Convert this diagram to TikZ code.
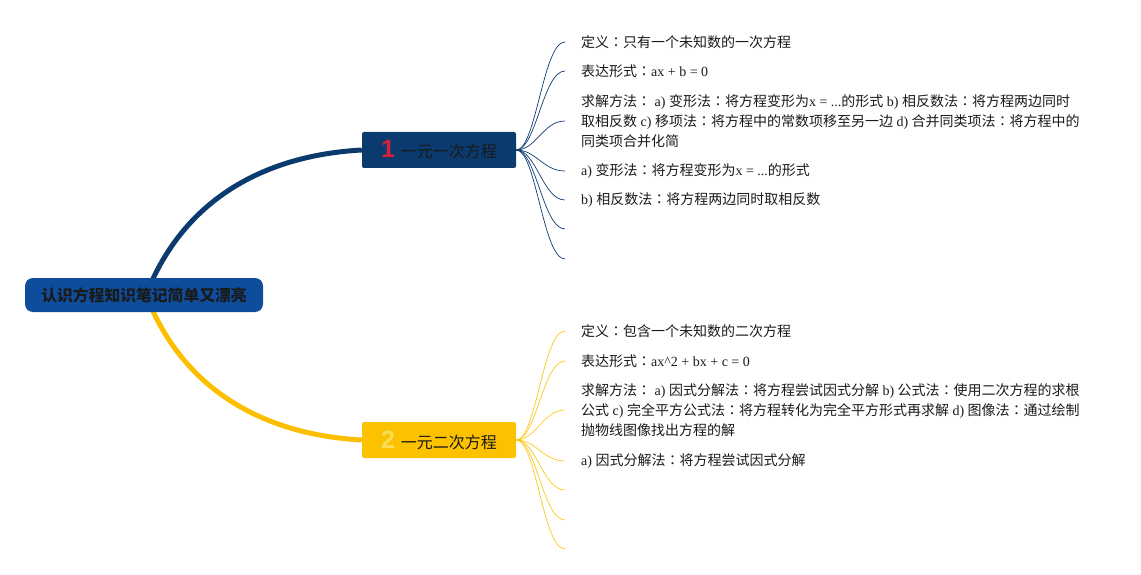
\documentclass[tikz,border=0pt]{standalone}
\usepackage{fontspec}
\setmainfont{Liberation Serif}
\newfontfamily\cjk{Noto Sans CJK SC}
\newfontfamily\cjktc{Noto Sans CJK TC}
\newfontfamily\latinfont{Liberation Serif}
\newfontfamily\numfont{Liberation Sans}
\usetikzlibrary{backgrounds}
\newcommand\lt[1]{{\latinfont#1}}
\newcommand\co{{\cjktc ：}}
\definecolor{rootblue}{HTML}{0E4D9C}
\definecolor{navy}{HTML}{0B3A6F}
\definecolor{gold}{HTML}{FCC200}
\definecolor{numred}{HTML}{D6213B}
\definecolor{numyellow}{HTML}{F7DD5A}
\definecolor{ink}{HTML}{1A1A1A}
\tikzset{
  rootbox/.style={fill=rootblue, rounded corners=8pt, minimum width=238pt, minimum height=34pt,
    text=ink, font=\cjk\bfseries\fontsize{15.8}{18}\selectfont},
  branchbox/.style={rounded corners=2pt, minimum width=154pt, minimum height=36pt,
    text=ink, font=\cjk\fontsize{16}{18}\selectfont},
  leaf/.style={anchor=west, inner xsep=16pt, inner ysep=0pt, align=left, text=ink,
    font=\cjk\fontsize{14}{20}\selectfont},
  thick1/.style={line width=5pt, navy},
  thick2/.style={line width=5pt, gold!95!orange},
  fan1/.style={line width=0.7pt, navy},
  fan2/.style={line width=0.7pt, gold!90!white},
}
\begin{document}
\begin{tikzpicture}[x=1pt, y=-1pt]
  \useasboundingbox (0,0) rectangle (1141,575);
  \node[rootbox] (root) at (144,295) {认识方程知识笔记简单又漂亮};
  \node[branchbox, fill=navy] (b1) at (439,150)
    {{\numfont\bfseries\fontsize{25}{25}\selectfont\color{numred}1}\hspace{6pt}一元一次方程};
  \node[branchbox, fill=gold] (b2) at (439,440)
    {{\numfont\bfseries\fontsize{25}{25}\selectfont\color{numyellow}2}\hspace{6pt}一元二次方程};
  % 一元一次方程
  \node[leaf] (l11) at (565,42) {定义\co 只有一个未知数的一次方程};
  \node[leaf] (l12) at (565,71) {表达形式\co\lt{ax + b = 0}};
  \node[leaf] (l13) at (565,121) {求解方法\co\lt{ a) }变形法\co 将方程变形为\lt{x = ...}的形式\lt{ b) }相反数法\co 将方程两边同时\\
    取相反数\lt{ c) }移项法\co 将方程中的常数项移至另一边\lt{ d) }合并同类项法\co 将方程中的\\
    同类项合并化简};
  \node[leaf] (l14) at (565,171) {\lt{a) }变形法\co 将方程变形为\lt{x = ...}的形式};
  \node[leaf] (l15) at (565,200) {\lt{b) }相反数法\co 将方程两边同时取相反数};
  \coordinate (l16) at (565,229);
  \coordinate (l17) at (565,259);
  % 一元二次方程
  \node[leaf] (l21) at (565,331) {定义\co 包含一个未知数的二次方程};
  \node[leaf] (l22) at (565,361) {表达形式\co\lt{ax\^{}2 + bx + c = 0}};
  \node[leaf] (l23) at (565,410) {求解方法\co\lt{ a) }因式分解法\co 将方程尝试因式分解\lt{ b) }公式法\co 使用二次方程的求根\\
    公式\lt{ c) }完全平方公式法\co 将方程转化为完全平方形式再求解\lt{ d) }图像法\co 通过绘制\\
    抛物线图像找出方程的解};
  \node[leaf] (l24) at (565,461) {\lt{a) }因式分解法\co 将方程尝试因式分解};
  \coordinate (l25) at (565,490);
  \coordinate (l26) at (565,520);
  \coordinate (l27) at (565,549);
  \begin{scope}[on background layer]
    \draw[thick1] ([xshift=2pt]root.center) .. controls (185,195) and (270,155) .. (b1.west);
    \draw[thick2] ([xshift=2pt]root.center) .. controls (185,395) and (270,435) .. (b2.west);
    \foreach \k in {l11,l12,l13,l14,l15,l16,l17}
      \draw[fan1] (b1.east) .. controls +(20,0) and +(-22,0) .. (\k.west);
    \foreach \k in {l21,l22,l23,l24,l25,l26,l27}
      \draw[fan2] (b2.east) .. controls +(20,0) and +(-22,0) .. (\k.west);
  \end{scope}
\end{tikzpicture}
\end{document}
